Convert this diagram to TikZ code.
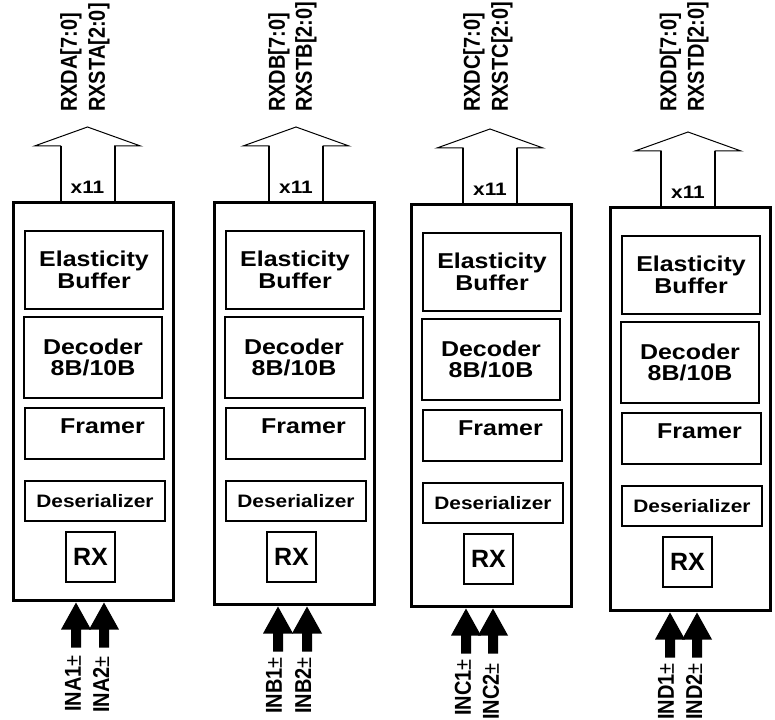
\documentclass[tikz,border=0pt]{standalone}
\usepackage{fontspec}
\newfontfamily\hvw[FakeStretch=1.16]{Liberation Sans}
\newfontfamily\hvn[FakeStretch=0.87]{Liberation Sans}
\newfontfamily\hvr{Liberation Sans}
\tikzset{
  outerbox/.style={draw, line width=3pt, inner sep=0pt},
  blockbox/.style={draw, line width=2pt, inner sep=0pt, align=center,
    font=\hvw\bfseries\fontsize{21.5}{21.5}\selectfont},
  smallbox/.style={blockbox, font=\hvw\bfseries\fontsize{18}{18}\selectfont},
  rxbox/.style={draw, line width=2pt, inner sep=0pt, font=\hvr\bfseries\fontsize{25}{25}\selectfont},
  plaintext/.style={inner sep=0pt, font=\hvw\bfseries\fontsize{21.5}{21.5}\selectfont},
  busarrow/.style={line width=1pt, line join=miter},
  sidetext/.style={inner sep=0pt, rotate=90, font=\hvn\bfseries\fontsize{23}{23}\selectfont},
  counttext/.style={inner sep=0pt, font=\hvw\bfseries\fontsize{18}{18}\selectfont}
}
\begin{document}
\begin{tikzpicture}[x=1pt,y=-1pt]
\useasboundingbox (0,0) rectangle (775,719);
\foreach \col/\lx/\ty/\hh/\ax/\la/\lb/\ba/\bb/\ia/\ib/\ita/\itb in {
  A/13/203/397/87.5/71/99/76/104/73/101/655/656,
  B/214/203/401/296/279/306/278/307/274/303/657/657,
  C/411/205/401/490/474/502/466/493/463/491/659/663,
  D/610/208/402/688/670.5/698/670/697/666/694/663/663}{
  % outer block
  \node[outerbox, minimum width=160pt, minimum height=\hh*1pt] (ob\col) at ({\lx+80},{\ty+\hh/2}) {};
  % inner blocks
  \node[blockbox, minimum width=138pt, minimum height=78pt] (el\col) at ({\lx+81},{\ty+67}) {Elasticity\\Buffer};
  \node[blockbox, minimum width=138pt, minimum height=81pt] (de\col) at ({\lx+80},{\ty+154.5}) {Decoder\\8B/10B};
  \node[blockbox, minimum width=139pt, minimum height=51pt] (fr\col) at ({\lx+81.5},{\ty+230.5}) {};
  \node[plaintext, anchor=base] (frt\col) at ({\lx+89.5},{\ty+230}) {Framer};
  \node[smallbox, minimum width=140pt, minimum height=40pt] (ds\col) at ({\lx+82},{\ty+298}) {Deserializer};
  \node[rxbox, minimum width=49pt, minimum height=50pt] (rx\col) at ({\lx+77.5},{\ty+354}) {RX};
  % output bus arrow
  \draw[busarrow] ({\ax-27},\ty) -- ({\ax-27},{\ty-57}) -- ({\ax-53},{\ty-57}) -- (\ax,{\ty-76})
     -- ({\ax+53},{\ty-57}) -- ({\ax+27},{\ty-57}) -- ({\ax+27},\ty);
  \draw[line width=2pt] ({\ax-27},\ty) -- ({\ax-27},{\ty-57});
  \draw[line width=2pt] ({\ax+27},\ty) -- ({\ax+27},{\ty-57});
  \node[counttext] (cnt\col) at (\ax,{\ty-16}) {x11};
  \node[sidetext, anchor=west] (rxd\col) at (\la,112) {RXD\col[7:0]};
  \node[sidetext, anchor=west] (rxs\col) at (\lb,112) {RXST\col[2:0]};
  % input arrows
  \coordinate (in\col1) at (\ba,{\ty+\hh+2.5});
  \coordinate (in\col2) at (\bb,{\ty+\hh+2.5});
  \fill (in\col1) -- ++(15,27) -- ++(-10,0) -- ++(0,18) -- ++(-10,0) -- ++(0,-18) -- ++(-10,0) -- cycle;
  \fill (in\col2) -- ++(15,27) -- ++(-10,0) -- ++(0,18) -- ++(-10,0) -- ++(0,-18) -- ++(-10,0) -- cycle;
  \node[sidetext, anchor=east] (ina\col) at (\ia,\ita) {IN\col1{\mdseries ±}};
  \node[sidetext, anchor=east] (inb\col) at (\ib,\itb) {IN\col2{\mdseries ±}};
}
\end{tikzpicture}
\end{document}
